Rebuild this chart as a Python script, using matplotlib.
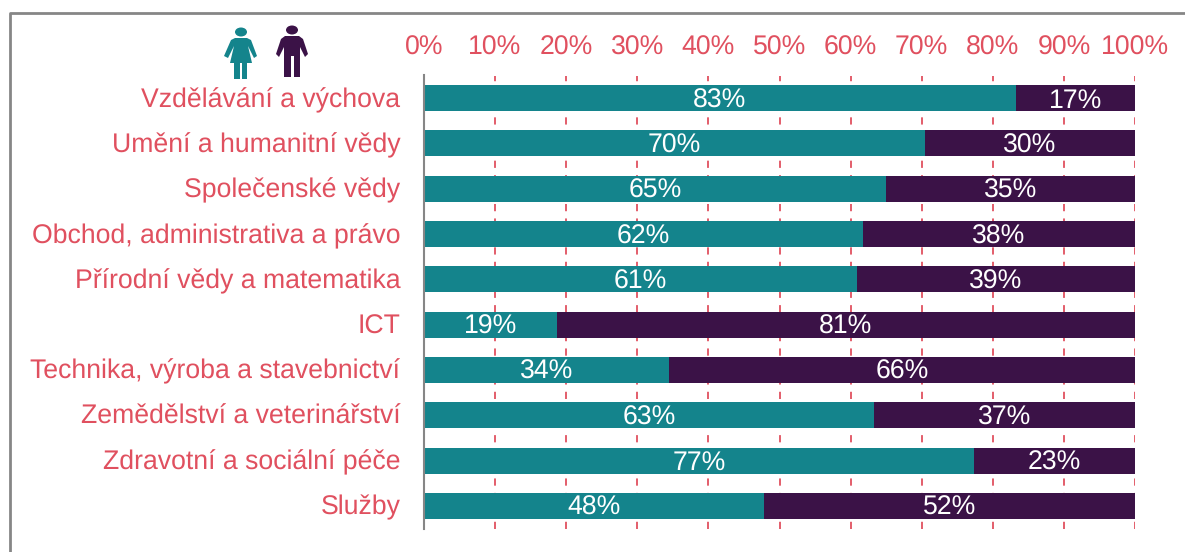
import matplotlib
matplotlib.use("Agg")
import matplotlib.pyplot as plt
from matplotlib.patches import Ellipse, Polygon
from matplotlib.lines import Line2D
from matplotlib.transforms import ScaledTranslation
import numpy as np

plt.rcParams['font.family'] = ['Liberation Sans', 'DejaVu Sans']
plt.rcParams['text.hinting'] = 'no_hinting'

categories = ['Vzdělávání a výchova', 'Umění a humanitní vědy', 'Společenské vědy',
              'Obchod, administrativa a právo', 'Přírodní vědy a matematika', 'ICT',
              'Technika, výroba a stavebnictví', 'Zemědělství a veterinářství',
              'Zdravotní a sociální péče', 'Služby']
women = [83.2, 70.4, 65.0, 61.7, 60.9, 18.7, 34.4, 63.3, 77.3, 47.8]
men = [16.8, 29.6, 35.0, 38.3, 39.1, 81.3, 65.6, 36.7, 22.7, 52.2]
women_labels = ['83%', '70%', '65%', '62%', '61%', '19%', '34%', '63%', '77%', '48%']
men_labels = ['17%', '30%', '35%', '38%', '39%', '81%', '66%', '37%', '23%', '52%']
ticks = [0, 10, 20, 30, 40, 50, 60, 70, 80, 90, 100]

teal = '#14848C'
purple = '#3B1247'
red = '#E0505F'
grey = '#868686'
W, H = 1185, 552
fs = 19.2

fig = plt.figure(figsize=(W/100, H/100), dpi=100)
ax = fig.add_axes([424/W, 1-528.5/H, (1135-424)/W, 453/H])
y = np.arange(len(categories))

ax.barh(y, women, height=0.575, color=teal, zorder=2)
ax.barh(y, men, left=women, height=0.575, color=purple, zorder=2)
for i in y:
    ax.text(women[i]/2, i+0.05, women_labels[i], color='white', fontsize=fs,
            ha='center', va='center', zorder=3)
    ax.text(women[i]+men[i]/2, i+0.05, men_labels[i], color='white', fontsize=fs,
            ha='center', va='center', zorder=3)

ax.set_xlim(0, 100)
ax.set_ylim(len(categories)-0.5, -0.5)
ax.set_xticks(ticks)
ax.set_xticklabels([f'{t}%' for t in ticks])
ax.set_yticks(y)
ax.set_yticklabels(categories)
ax.xaxis.tick_top()
ax.tick_params(axis='x', length=0, pad=11, labelsize=fs, labelcolor=red)
ax.tick_params(axis='y', length=0, pad=17, labelsize=fs, labelcolor=red)
# labels sit a pixel above the bar centres
for lab in ax.get_yticklabels():
    lab.set_transform(lab.get_transform() + ScaledTranslation(0, 1/100, fig.dpi_scale_trans))
ax.set_axisbelow(True)
ax.grid(axis='x', color=red, linestyle=(0, (4, 4)), linewidth=1.3)
for s in ['top', 'right', 'bottom']:
    ax.spines[s].set_visible(False)
ax.spines['left'].set_color(grey)
ax.spines['left'].set_linewidth(1.5)
ax.spines['left'].set_zorder(5)

# overlay in pixels for the outer frame and the two figures
ov = fig.add_axes([0, 0, 1, 1], facecolor='none')
ov.set_xlim(0, W)
ov.set_ylim(H, 0)
ov.axis('off')
ov.add_line(Line2D([10, 10, W], [H, 13, 13], color=grey, linewidth=2))

# woman
ov.add_patch(Ellipse((241, 32), 12, 9, color=teal, lw=0))
ov.add_patch(Polygon([(235, 38), (247, 38), (251, 40), (257, 56), (254, 58), (248, 46),
                     (252, 63), (247, 63), (247, 79), (242, 79), (242, 63), (240, 63),
                     (240, 79), (234, 79), (234, 63), (230, 63), (234, 46), (228, 58),
                     (224, 56), (231, 40)], closed=True, color=teal, lw=0))
# man
ov.add_patch(Ellipse((292, 30), 12, 9, color=purple, lw=0))
ov.add_patch(Polygon([(285, 36), (299, 36), (303, 39), (308, 54), (305, 57), (300, 47),
                     (300, 77), (294, 77), (294, 56), (291, 56), (291, 77), (284, 77),
                     (284, 47), (279, 57), (276, 54), (281, 39)], closed=True,
                     color=purple, lw=0))

plt.savefig('out.png', dpi=100)
